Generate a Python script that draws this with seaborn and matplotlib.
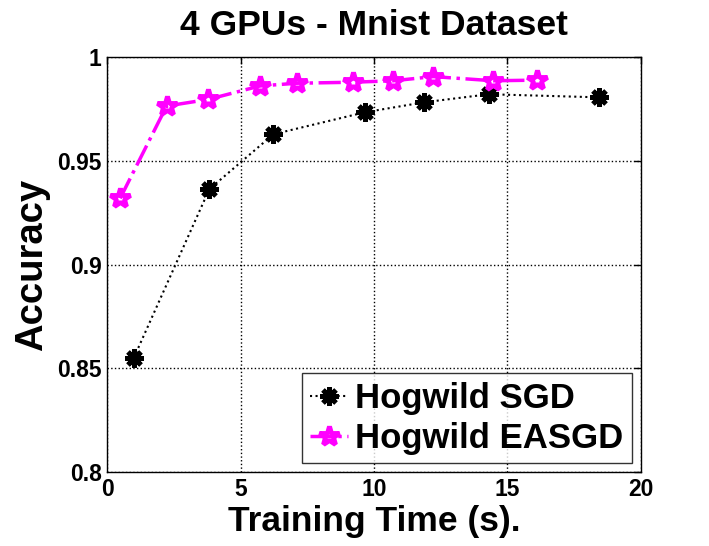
import matplotlib
matplotlib.use("Agg")
import matplotlib.pyplot as plt
import seaborn as sns

# values
sgd_time = [1.0, 3.83, 6.23, 9.66, 11.87, 14.3, 18.43]
sgd_acc = [0.855, 0.9364, 0.9629, 0.9735, 0.9783, 0.9822, 0.9807]
easgd_time = [0.49, 2.23, 3.79, 5.73, 7.1, 9.22, 10.72, 12.22, 14.47, 16.09]
easgd_acc = [0.932, 0.9765, 0.9797, 0.9862, 0.9875, 0.988, 0.9887, 0.9907, 0.9887, 0.989]

x_ticks = [0, 5, 10, 15, 20]
y_ticks = [0.8, 0.85, 0.9, 0.95, 1.0]
y_tick_labels = ["0.8", "0.85", "0.9", "0.95", "1"]


def main():
    sns.set_style("white")
    plt.rcParams['font.family'] = ['Liberation Sans', 'DejaVu Sans']
    plt.rcParams['font.weight'] = 'bold'
    for k in ['text.color', 'axes.labelcolor', 'xtick.color', 'ytick.color']:
        plt.rcParams[k] = 'black'

    fig = plt.figure(figsize=(7.09, 5.46), dpi=100)
    ax = fig.add_axes([0.151, 0.1355, 0.753, 0.7595])

    sns.lineplot(x=sgd_time, y=sgd_acc, ax=ax, color='black', linestyle=':',
                 linewidth=1.5, marker=(8, 2, 0), markersize=13, markeredgewidth=3.5,
                 markeredgecolor='black', label='Hogwild SGD')
    sns.lineplot(x=easgd_time, y=easgd_acc, ax=ax, color='#ff00ff', linestyle='-.',
                 linewidth=2.5, marker='*', markersize=15, markerfacecolor='none',
                 markeredgecolor='#ff00ff', markeredgewidth=3.5, label='Hogwild EASGD')

    ax.set_xlim(0, 20)
    ax.set_ylim(0.8, 1.0)
    ax.set_xticks(x_ticks)
    ax.set_yticks(y_ticks)
    ax.set_yticklabels(y_tick_labels)
    ax.tick_params(direction='in', top=True, right=True, length=5, width=1,
                   labelsize=16.5, pad=4)
    for lbl in ax.get_xticklabels() + ax.get_yticklabels():
        lbl.set_fontweight('bold')
    ax.grid(True, linestyle=':', color='black', linewidth=1)
    for s in ax.spines.values():
        s.set_color('black')
        s.set_linewidth(1)

    ax.set_title('4 GPUs - Mnist Dataset', fontsize=25.5, fontweight='bold', pad=16)
    ax.set_xlabel('Training Time (s).', fontsize=25.5, fontweight='bold', labelpad=3)
    ax.set_ylabel('Accuracy', fontsize=27.5, fontweight='bold', labelpad=5)

    leg = ax.legend(loc='lower right', fontsize=25, frameon=True, fancybox=False,
                    handlelength=1.1, handletextpad=0.2, borderpad=0.25,
                    labelspacing=0.2, borderaxespad=0.25)
    leg.get_frame().set_edgecolor('black')
    leg.get_frame().set_linewidth(1)
    for t in leg.get_texts():
        t.set_fontweight('bold')

    fig.savefig('out.png', dpi=100)


if __name__ == "__main__":
    main()
